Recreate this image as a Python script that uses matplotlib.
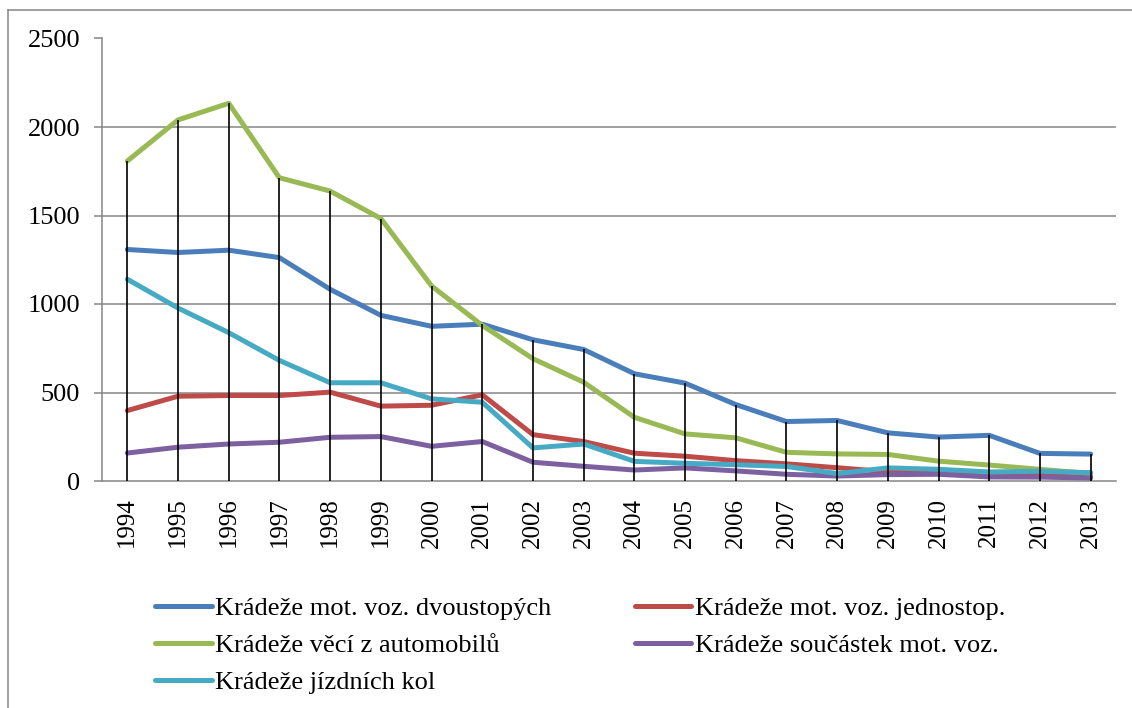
import matplotlib
matplotlib.use("Agg")
import matplotlib.pyplot as plt
from matplotlib.lines import Line2D
import numpy as np

years = ["1994", "1995", "1996", "1997", "1998", "1999", "2000", "2001", "2002", "2003",
         "2004", "2005", "2006", "2007", "2008", "2009", "2010", "2011", "2012", "2013"]

dvoustopych = [1308, 1291, 1304, 1262, 1083, 936, 874, 886, 798, 743,
               606, 553, 432, 336, 342, 272, 248, 258, 156, 152]
jednostop = [398, 479, 483, 483, 502, 423, 428, 487, 262, 223,
             157, 140, 115, 97, 75, 52, 45, 38, 35, 26]
veci = [1808, 2040, 2134, 1713, 1638, 1483, 1102, 879, 691, 558,
        360, 266, 244, 162, 153, 150, 112, 90, 66, 42]
soucastek = [158, 191, 209, 219, 247, 251, 196, 223, 106, 83,
             62, 74, 57, 38, 28, 36, 38, 23, 22, 17]
kol = [1140, 977, 838, 681, 555, 555, 464, 445, 187, 209,
       111, 100, 92, 82, 42, 74, 66, 51, 55, 47]

labels = ["Krádeže mot. voz. dvoustopých", "Krádeže mot. voz. jednostop.",
          "Krádeže věcí z automobilů", "Krádeže součástek mot. voz.",
          "Krádeže jízdních kol"]
colors = ["#4A7EBB", "#BE4B48", "#98B954", "#7D60A0", "#46AAC5"]
series = [dvoustopych, jednostop, veci, soucastek, kol]

yticks = [0, 500, 1000, 1500, 2000, 2500]

plt.rcParams['font.family'] = ['Liberation Serif', 'DejaVu Serif']

W, H = 1132, 708
fig = plt.figure(figsize=(W / 100, H / 100), dpi=100)
fig.patch.set_facecolor("white")

left, right, top, bottom = 102, 1116, 38.5, 481
ax = fig.add_axes([left / W, 1 - bottom / H, (right - left) / W, (bottom - top) / H])

x = np.arange(len(years))
for vals, col, lab in zip(series, colors, labels):
    ax.plot(x, vals, color=col, lw=3.6, solid_capstyle='round',
            solid_joinstyle='round', zorder=3, label=lab)

# drop lines from highest value to axis
maxvals = np.max(np.array(series), axis=0)
ax.vlines(x, 0, maxvals, color="black", lw=1.2, zorder=4)

ax.set_xlim(-0.5, len(years) - 0.5)
ax.set_ylim(0, 2500)
ax.set_yticks(yticks)
ax.set_yticklabels([str(t) for t in yticks])
ax.set_xticks(x)
ax.set_xticklabels(years, rotation=90)

grid_col = "#868686"
for t in yticks[1:]:
    ax.axhline(t, color=grid_col, lw=1.1, zorder=1)

for s in ["top", "right"]:
    ax.spines[s].set_visible(False)
for s in ["left", "bottom"]:
    ax.spines[s].set_color(grid_col)
    ax.spines[s].set_linewidth(1.1)
    ax.spines[s].set_zorder(1)

ax.tick_params(axis='y', length=5.8, width=1.1, color=grid_col, pad=10, labelsize=19)
ax.tick_params(axis='x', length=0, pad=12, labelsize=18)

# legend (order for 2 columns, column-first fill)
order = [0, 2, 4, 1, 3]
leg_handles = [Line2D([0], [0], color=colors[i], lw=3.6, solid_capstyle='round') for i in order]
leg_labels = [labels[i] for i in order]
fig.legend(leg_handles, leg_labels, loc='upper left',
           bbox_to_anchor=(155 / W, 1 - 597 / H), ncol=2, frameon=False,
           fontsize=19, handlelength=2.15, handletextpad=0.13,
           columnspacing=3.15, labelspacing=0.5, borderpad=0, borderaxespad=0)

# outer chart border (cropped at right/bottom)
fig.add_artist(Line2D([8 / W, 1.0], [1 - 9.5 / H, 1 - 9.5 / H], color=grid_col, lw=1.1,
                      transform=fig.transFigure))
fig.add_artist(Line2D([8 / W, 8 / W], [1 - 9.5 / H, 0.0], color=grid_col, lw=1.1,
                      transform=fig.transFigure))

fig.savefig("out.png", dpi=100)
